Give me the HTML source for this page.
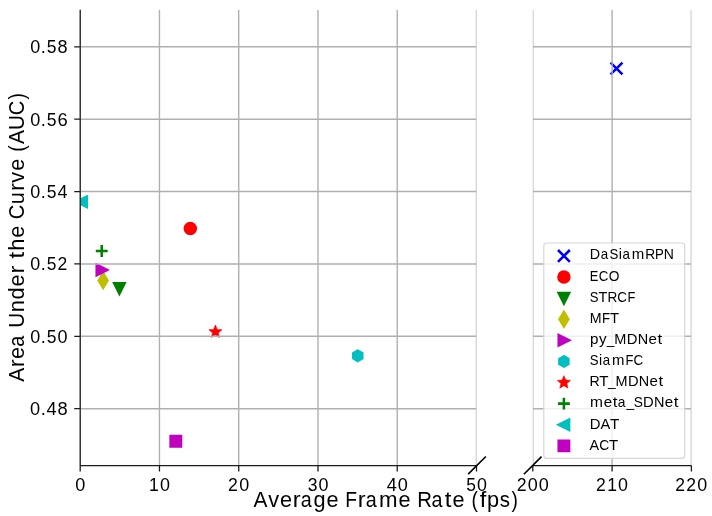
<!DOCTYPE html>
<html><head><meta charset="utf-8">
<style>
html,body{margin:0;padding:0;background:#fff;width:712px;height:516px;overflow:hidden}
svg{display:block;will-change:transform}
text{font-family:"Liberation Sans",sans-serif;fill:#000}
</style></head>
<body>
<svg width="712" height="516" viewBox="0 0 712 516">
<rect width="712" height="516" fill="#fff"/>
<defs><clipPath id="cl"><rect x="80.20" y="9.80" width="396.30" height="455.80"/></clipPath>
<clipPath id="cr"><rect x="532.80" y="9.80" width="158.60" height="455.80"/></clipPath></defs>
<g clip-path="url(#cl)">
<circle cx="190.30" cy="228.50" r="5.46" fill="#ff0000" stroke="#ff0000" stroke-width="2.58"/>
<polygon points="114.24,283.34 124.56,283.34 119.40,293.66" fill="#008000" stroke="#008000" stroke-width="2.58" stroke-linejoin="miter"/>
<polygon points="103.10,273.20 107.48,280.50 103.10,287.80 98.72,280.50" fill="#bfbf00" stroke="#bfbf00" stroke-width="2.58" stroke-linejoin="miter"/>
<polygon points="96.74,264.74 107.06,269.90 96.74,275.06" fill="#bf00bf" stroke="#bf00bf" stroke-width="2.58" stroke-linejoin="miter"/>
<polygon points="357.80,350.64 353.33,353.22 353.33,358.38 357.80,360.96 362.27,358.38 362.27,353.22" fill="#00bfbf" stroke="#00bfbf" stroke-width="2.58" stroke-linejoin="miter"/>
<polygon points="215.40,325.00 213.57,329.39 208.84,329.77 212.45,332.86 211.34,337.48 215.40,335.00 219.46,337.48 218.35,332.86 221.96,329.77 217.23,329.39" fill="#ff0000" stroke="#ff0000" stroke-width="0.6" stroke-linejoin="round"/>
<path d="M95.80,251.00 H107.70 M101.75,245.05 V256.95" stroke="#008000" stroke-width="2.58" fill="none"/>
<polygon points="86.76,196.64 76.44,201.80 86.76,206.96" fill="#00bfbf" stroke="#00bfbf" stroke-width="2.58" stroke-linejoin="miter"/>
<polygon points="170.64,436.04 180.96,436.04 180.96,446.36 170.64,446.36" fill="#bf00bf" stroke="#bf00bf" stroke-width="2.58" stroke-linejoin="miter"/>
</g><g clip-path="url(#cr)">
<path d="M610.55,62.55 L622.45,74.45 M622.45,62.55 L610.55,74.45" stroke="#0000ff" stroke-width="2.58" fill="none"/>
</g>
<g clip-path="url(#cl)"><path d="M80.20,9.80V465.60M159.46,9.80V465.60M238.72,9.80V465.60M317.98,9.80V465.60M397.24,9.80V465.60M476.50,9.80V465.60M80.20,46.80H476.50M80.20,119.18H476.50M80.20,191.56H476.50M80.20,263.94H476.50M80.20,336.32H476.50M80.20,408.70H476.50" stroke="#b0b0b0" stroke-width="1.40" fill="none"/></g>
<g clip-path="url(#cr)"><path d="M532.80,9.80V465.60M612.10,9.80V465.60M691.40,9.80V465.60M532.80,46.80H691.40M532.80,119.18H691.40M532.80,191.56H691.40M532.80,263.94H691.40M532.80,336.32H691.40M532.80,408.70H691.40" stroke="#b0b0b0" stroke-width="1.40" fill="none"/></g>
<path d="M80.20,9.80V465.60H476.50M532.80,465.60H691.40M74.20,46.80H80.20M74.20,119.18H80.20M74.20,191.56H80.20M74.20,263.94H80.20M74.20,336.32H80.20M74.20,408.70H80.20M80.20,465.60V471.60M159.46,465.60V471.60M238.72,465.60V471.60M317.98,465.60V471.60M397.24,465.60V471.60M476.50,465.60V471.60M532.80,465.60V471.60M612.10,465.60V471.60M691.40,465.60V471.60" stroke="#1c1c1c" stroke-width="1.30" fill="none"/>
<path d="M468.15,474.15L485.85,456.45M523.85,474.30L541.55,456.60" stroke="#000" stroke-width="1.6" fill="none"/>
<text y="53.25" font-size="18.22"><tspan x="30.16" textLength="10.02" lengthAdjust="spacingAndGlyphs">0</tspan><tspan x="40.84" textLength="5.07" lengthAdjust="spacingAndGlyphs">.</tspan><tspan x="46.65" textLength="9.73" lengthAdjust="spacingAndGlyphs">5</tspan><tspan x="57.49" textLength="10.07" lengthAdjust="spacingAndGlyphs">8</tspan></text>
<text y="125.63" font-size="18.22"><tspan x="30.14" textLength="10.06" lengthAdjust="spacingAndGlyphs">0</tspan><tspan x="40.83" textLength="5.09" lengthAdjust="spacingAndGlyphs">.</tspan><tspan x="46.63" textLength="9.77" lengthAdjust="spacingAndGlyphs">5</tspan><tspan x="57.41" textLength="10.23" lengthAdjust="spacingAndGlyphs">6</tspan></text>
<text y="198.01" font-size="18.22"><tspan x="30.17" textLength="10.01" lengthAdjust="spacingAndGlyphs">0</tspan><tspan x="40.84" textLength="5.06" lengthAdjust="spacingAndGlyphs">.</tspan><tspan x="46.65" textLength="9.72" lengthAdjust="spacingAndGlyphs">5</tspan><tspan x="57.52" textLength="10.01" lengthAdjust="spacingAndGlyphs">4</tspan></text>
<text y="270.39" font-size="18.22"><tspan x="30.20" textLength="9.95" lengthAdjust="spacingAndGlyphs">0</tspan><tspan x="40.85" textLength="5.03" lengthAdjust="spacingAndGlyphs">.</tspan><tspan x="46.68" textLength="9.66" lengthAdjust="spacingAndGlyphs">5</tspan><tspan x="57.41" textLength="9.77" lengthAdjust="spacingAndGlyphs">2</tspan></text>
<text y="342.77" font-size="18.22"><tspan x="30.17" textLength="10.00" lengthAdjust="spacingAndGlyphs">0</tspan><tspan x="40.84" textLength="5.06" lengthAdjust="spacingAndGlyphs">.</tspan><tspan x="46.66" textLength="9.72" lengthAdjust="spacingAndGlyphs">5</tspan><tspan x="57.52" textLength="10.00" lengthAdjust="spacingAndGlyphs">0</tspan></text>
<text y="415.15" font-size="18.22"><tspan x="30.12" textLength="10.11" lengthAdjust="spacingAndGlyphs">0</tspan><tspan x="40.81" textLength="5.12" lengthAdjust="spacingAndGlyphs">.</tspan><tspan x="46.53" textLength="10.11" lengthAdjust="spacingAndGlyphs">4</tspan><tspan x="57.44" textLength="10.16" lengthAdjust="spacingAndGlyphs">8</tspan></text>
<text y="491.00" font-size="18.22"><tspan x="75.15" textLength="10.08" lengthAdjust="spacingAndGlyphs">0</tspan></text>
<text y="491.00" font-size="18.22"><tspan x="149.03" textLength="9.75" lengthAdjust="spacingAndGlyphs">1</tspan><tspan x="159.94" textLength="9.98" lengthAdjust="spacingAndGlyphs">0</tspan></text>
<text y="491.00" font-size="18.22"><tspan x="228.11" textLength="9.81" lengthAdjust="spacingAndGlyphs">2</tspan><tspan x="239.19" textLength="9.99" lengthAdjust="spacingAndGlyphs">0</tspan></text>
<text y="491.00" font-size="18.22"><tspan x="307.63" textLength="9.78" lengthAdjust="spacingAndGlyphs">3</tspan><tspan x="318.46" textLength="9.98" lengthAdjust="spacingAndGlyphs">0</tspan></text>
<text y="491.00" font-size="18.22"><tspan x="386.72" textLength="10.08" lengthAdjust="spacingAndGlyphs">4</tspan><tspan x="397.67" textLength="10.08" lengthAdjust="spacingAndGlyphs">0</tspan></text>
<text y="491.00" font-size="18.22"><tspan x="466.13" textLength="9.66" lengthAdjust="spacingAndGlyphs">5</tspan><tspan x="477.00" textLength="9.94" lengthAdjust="spacingAndGlyphs">0</tspan></text>
<text y="491.00" font-size="18.22"><tspan x="516.70" textLength="9.84" lengthAdjust="spacingAndGlyphs">2</tspan><tspan x="527.78" textLength="10.02" lengthAdjust="spacingAndGlyphs">0</tspan><tspan x="538.73" textLength="10.02" lengthAdjust="spacingAndGlyphs">0</tspan></text>
<text y="491.00" font-size="18.22"><tspan x="596.04" textLength="9.77" lengthAdjust="spacingAndGlyphs">2</tspan><tspan x="607.15" textLength="9.72" lengthAdjust="spacingAndGlyphs">1</tspan><tspan x="618.06" textLength="9.95" lengthAdjust="spacingAndGlyphs">0</tspan></text>
<text y="491.00" font-size="18.22"><tspan x="675.33" textLength="9.78" lengthAdjust="spacingAndGlyphs">2</tspan><tspan x="686.28" textLength="9.78" lengthAdjust="spacingAndGlyphs">2</tspan><tspan x="697.36" textLength="9.96" lengthAdjust="spacingAndGlyphs">0</tspan></text>
<text y="506.60" font-size="21.72"><tspan x="253.49" textLength="13.97" lengthAdjust="spacingAndGlyphs">A</tspan><tspan x="268.14" textLength="10.84" lengthAdjust="spacingAndGlyphs">v</tspan><tspan x="279.94" textLength="12.06" lengthAdjust="spacingAndGlyphs">e</tspan><tspan x="292.86" textLength="7.86" lengthAdjust="spacingAndGlyphs">r</tspan><tspan x="300.71" textLength="11.00" lengthAdjust="spacingAndGlyphs">a</tspan><tspan x="313.57" textLength="12.10" lengthAdjust="spacingAndGlyphs">g</tspan><tspan x="326.56" textLength="12.06" lengthAdjust="spacingAndGlyphs">e</tspan><tspan x="338.85"> </tspan><tspan x="345.37" textLength="11.80" lengthAdjust="spacingAndGlyphs">F</tspan><tspan x="357.79" textLength="7.86" lengthAdjust="spacingAndGlyphs">r</tspan><tspan x="365.63" textLength="11.00" lengthAdjust="spacingAndGlyphs">a</tspan><tspan x="378.92" textLength="18.55" lengthAdjust="spacingAndGlyphs">m</tspan><tspan x="398.44" textLength="12.06" lengthAdjust="spacingAndGlyphs">e</tspan><tspan x="410.73"> </tspan><tspan x="417.35" textLength="14.73" lengthAdjust="spacingAndGlyphs">R</tspan><tspan x="431.54" textLength="11.00" lengthAdjust="spacingAndGlyphs">a</tspan><tspan x="444.66" textLength="6.70" lengthAdjust="spacingAndGlyphs">t</tspan><tspan x="452.41" textLength="12.06" lengthAdjust="spacingAndGlyphs">e</tspan><tspan x="464.71"> </tspan><tspan x="471.55" textLength="6.39" lengthAdjust="spacingAndGlyphs">(</tspan><tspan x="479.75" textLength="6.64" lengthAdjust="spacingAndGlyphs">f</tspan><tspan x="487.02" textLength="12.10" lengthAdjust="spacingAndGlyphs">p</tspan><tspan x="499.82" textLength="10.21" lengthAdjust="spacingAndGlyphs">s</tspan><tspan x="511.42" textLength="6.39" lengthAdjust="spacingAndGlyphs">)</tspan></text>
<text transform="translate(23.80,381.86) rotate(-90)" y="0" font-size="21.72"><tspan x="0.01" textLength="13.99" lengthAdjust="spacingAndGlyphs">A</tspan><tspan x="14.64" textLength="7.88" lengthAdjust="spacingAndGlyphs">r</tspan><tspan x="22.76" textLength="12.08" lengthAdjust="spacingAndGlyphs">e</tspan><tspan x="35.10" textLength="11.02" lengthAdjust="spacingAndGlyphs">a</tspan><tspan x="47.63"> </tspan><tspan x="54.16" textLength="14.97" lengthAdjust="spacingAndGlyphs">U</tspan><tspan x="69.65" textLength="12.07" lengthAdjust="spacingAndGlyphs">n</tspan><tspan x="82.47" textLength="12.12" lengthAdjust="spacingAndGlyphs">d</tspan><tspan x="95.46" textLength="12.08" lengthAdjust="spacingAndGlyphs">e</tspan><tspan x="108.38" textLength="7.88" lengthAdjust="spacingAndGlyphs">r</tspan><tspan x="116.19"> </tspan><tspan x="123.31" textLength="6.71" lengthAdjust="spacingAndGlyphs">t</tspan><tspan x="131.20" textLength="12.11" lengthAdjust="spacingAndGlyphs">h</tspan><tspan x="144.05" textLength="12.08" lengthAdjust="spacingAndGlyphs">e</tspan><tspan x="156.35"> </tspan><tspan x="162.65" textLength="14.55" lengthAdjust="spacingAndGlyphs">C</tspan><tspan x="177.60" textLength="12.07" lengthAdjust="spacingAndGlyphs">u</tspan><tspan x="190.79" textLength="7.88" lengthAdjust="spacingAndGlyphs">r</tspan><tspan x="199.24" textLength="10.86" lengthAdjust="spacingAndGlyphs">v</tspan><tspan x="211.04" textLength="12.08" lengthAdjust="spacingAndGlyphs">e</tspan><tspan x="223.35"> </tspan><tspan x="230.18" textLength="6.40" lengthAdjust="spacingAndGlyphs">(</tspan><tspan x="237.87" textLength="13.99" lengthAdjust="spacingAndGlyphs">A</tspan><tspan x="251.90" textLength="14.97" lengthAdjust="spacingAndGlyphs">U</tspan><tspan x="266.67" textLength="14.55" lengthAdjust="spacingAndGlyphs">C</tspan><tspan x="282.48" textLength="6.40" lengthAdjust="spacingAndGlyphs">)</tspan></text>
<rect x="543.80" y="243.00" width="140.90" height="215.40" rx="2.9" ry="2.9" fill="#fff" fill-opacity="0.8" stroke="#d6d6d6" stroke-width="1.15"/>
<path d="M557.95,250.00 L569.85,261.90 M569.85,250.00 L557.95,261.90" stroke="#0000ff" stroke-width="2.58" fill="none"/>
<circle cx="563.90" cy="277.05" r="5.46" fill="#ff0000" stroke="#ff0000" stroke-width="2.58"/>
<polygon points="558.74,292.99 569.06,292.99 563.90,303.31" fill="#008000" stroke="#008000" stroke-width="2.58" stroke-linejoin="miter"/>
<polygon points="563.90,311.95 568.28,319.25 563.90,326.55 559.52,319.25" fill="#bfbf00" stroke="#bfbf00" stroke-width="2.58" stroke-linejoin="miter"/>
<polygon points="558.74,335.19 569.06,340.35 558.74,345.51" fill="#bf00bf" stroke="#bf00bf" stroke-width="2.58" stroke-linejoin="miter"/>
<polygon points="563.90,356.29 559.43,358.87 559.43,364.03 563.90,366.61 568.37,364.03 568.37,358.87" fill="#00bfbf" stroke="#00bfbf" stroke-width="2.58" stroke-linejoin="miter"/>
<polygon points="563.90,375.65 562.07,380.04 557.34,380.42 560.95,383.51 559.84,388.13 563.90,385.66 567.96,388.13 566.85,383.51 570.46,380.42 565.73,380.04" fill="#ff0000" stroke="#ff0000" stroke-width="0.6" stroke-linejoin="round"/>
<path d="M557.95,403.65 H569.85 M563.90,397.70 V409.60" stroke="#008000" stroke-width="2.58" fill="none"/>
<polygon points="569.06,419.59 558.74,424.75 569.06,429.91" fill="#00bfbf" stroke="#00bfbf" stroke-width="2.58" stroke-linejoin="miter"/>
<polygon points="558.74,440.69 569.06,440.69 569.06,451.01 558.74,451.01" fill="#bf00bf" stroke="#bf00bf" stroke-width="2.58" stroke-linejoin="miter"/>
<text y="259.35" font-size="15.15"><tspan x="589.87" textLength="10.35" lengthAdjust="spacingAndGlyphs">D</tspan><tspan x="600.68" textLength="7.43" lengthAdjust="spacingAndGlyphs">a</tspan><tspan x="609.45" textLength="8.87" lengthAdjust="spacingAndGlyphs">S</tspan><tspan x="618.76" textLength="3.16" lengthAdjust="spacingAndGlyphs">i</tspan><tspan x="622.49" textLength="7.43" lengthAdjust="spacingAndGlyphs">a</tspan><tspan x="631.83" textLength="12.52" lengthAdjust="spacingAndGlyphs">m</tspan><tspan x="645.26" textLength="9.95" lengthAdjust="spacingAndGlyphs">R</tspan><tspan x="655.11" textLength="8.83" lengthAdjust="spacingAndGlyphs">P</tspan><tspan x="663.87" textLength="10.11" lengthAdjust="spacingAndGlyphs">N</tspan></text>
<text y="280.50" font-size="15.15"><tspan x="589.72" textLength="8.57" lengthAdjust="spacingAndGlyphs">E</tspan><tspan x="598.65" textLength="9.61" lengthAdjust="spacingAndGlyphs">C</tspan><tspan x="608.81" textLength="10.68" lengthAdjust="spacingAndGlyphs">O</tspan></text>
<text y="301.65" font-size="15.15"><tspan x="589.73" textLength="8.76" lengthAdjust="spacingAndGlyphs">S</tspan><tspan x="598.51" textLength="8.88" lengthAdjust="spacingAndGlyphs">T</tspan><tspan x="607.62" textLength="9.83" lengthAdjust="spacingAndGlyphs">R</tspan><tspan x="617.33" textLength="9.68" lengthAdjust="spacingAndGlyphs">C</tspan><tspan x="627.43" textLength="7.87" lengthAdjust="spacingAndGlyphs">F</tspan></text>
<text y="322.80" font-size="15.15"><tspan x="589.76" textLength="11.82" lengthAdjust="spacingAndGlyphs">M</tspan><tspan x="601.94" textLength="8.04" lengthAdjust="spacingAndGlyphs">F</tspan><tspan x="609.90" textLength="9.07" lengthAdjust="spacingAndGlyphs">T</tspan></text>
<text y="343.95" font-size="15.15"><tspan x="589.90" textLength="8.45" lengthAdjust="spacingAndGlyphs">p</tspan><tspan x="599.03" textLength="7.54" lengthAdjust="spacingAndGlyphs">y</tspan><tspan x="606.82" textLength="7.65" lengthAdjust="spacingAndGlyphs">_</tspan><tspan x="614.31" textLength="12.11" lengthAdjust="spacingAndGlyphs">M</tspan><tspan x="626.71" textLength="10.69" lengthAdjust="spacingAndGlyphs">D</tspan><tspan x="637.66" textLength="10.45" lengthAdjust="spacingAndGlyphs">N</tspan><tspan x="648.46" textLength="8.41" lengthAdjust="spacingAndGlyphs">e</tspan><tspan x="657.45" textLength="4.68" lengthAdjust="spacingAndGlyphs">t</tspan></text>
<text y="365.10" font-size="15.15"><tspan x="589.71" textLength="8.81" lengthAdjust="spacingAndGlyphs">S</tspan><tspan x="599.00" textLength="3.14" lengthAdjust="spacingAndGlyphs">i</tspan><tspan x="602.74" textLength="7.38" lengthAdjust="spacingAndGlyphs">a</tspan><tspan x="612.10" textLength="12.44" lengthAdjust="spacingAndGlyphs">m</tspan><tspan x="625.42" textLength="7.91" lengthAdjust="spacingAndGlyphs">F</tspan><tspan x="633.52" textLength="9.73" lengthAdjust="spacingAndGlyphs">C</tspan></text>
<text y="386.25" font-size="15.15"><tspan x="589.60" textLength="10.21" lengthAdjust="spacingAndGlyphs">R</tspan><tspan x="599.19" textLength="9.23" lengthAdjust="spacingAndGlyphs">T</tspan><tspan x="607.97" textLength="7.60" lengthAdjust="spacingAndGlyphs">_</tspan><tspan x="615.48" textLength="12.03" lengthAdjust="spacingAndGlyphs">M</tspan><tspan x="627.88" textLength="10.62" lengthAdjust="spacingAndGlyphs">D</tspan><tspan x="638.83" textLength="10.38" lengthAdjust="spacingAndGlyphs">N</tspan><tspan x="649.62" textLength="8.36" lengthAdjust="spacingAndGlyphs">e</tspan><tspan x="658.60" textLength="4.65" lengthAdjust="spacingAndGlyphs">t</tspan></text>
<text y="407.40" font-size="15.15"><tspan x="590.03" textLength="12.94" lengthAdjust="spacingAndGlyphs">m</tspan><tspan x="603.65" textLength="8.41" lengthAdjust="spacingAndGlyphs">e</tspan><tspan x="612.65" textLength="4.68" lengthAdjust="spacingAndGlyphs">t</tspan><tspan x="617.86" textLength="7.68" lengthAdjust="spacingAndGlyphs">a</tspan><tspan x="626.38" textLength="7.65" lengthAdjust="spacingAndGlyphs">_</tspan><tspan x="633.78" textLength="9.17" lengthAdjust="spacingAndGlyphs">S</tspan><tspan x="643.01" textLength="10.69" lengthAdjust="spacingAndGlyphs">D</tspan><tspan x="653.96" textLength="10.45" lengthAdjust="spacingAndGlyphs">N</tspan><tspan x="664.75" textLength="8.41" lengthAdjust="spacingAndGlyphs">e</tspan><tspan x="673.75" textLength="4.68" lengthAdjust="spacingAndGlyphs">t</tspan></text>
<text y="428.55" font-size="15.15"><tspan x="589.67" textLength="10.72" lengthAdjust="spacingAndGlyphs">D</tspan><tspan x="600.51" textLength="9.77" lengthAdjust="spacingAndGlyphs">A</tspan><tspan x="610.01" textLength="9.31" lengthAdjust="spacingAndGlyphs">T</tspan></text>
<text y="449.70" font-size="15.15"><tspan x="589.59" textLength="9.60" lengthAdjust="spacingAndGlyphs">A</tspan><tspan x="599.21" textLength="9.98" lengthAdjust="spacingAndGlyphs">C</tspan><tspan x="609.06" textLength="9.15" lengthAdjust="spacingAndGlyphs">T</tspan></text>
</svg>
</body></html>
